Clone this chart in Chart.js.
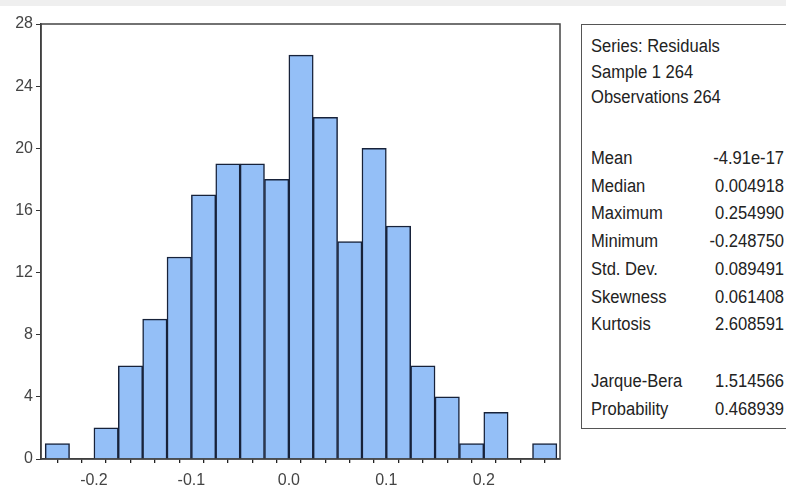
<!DOCTYPE html>
<html>
<head>
<meta charset="utf-8">
<script src="https://cdn.jsdelivr.net/npm/chart.js@4"></script>
<style>
  html,body{margin:0;padding:0;background:#fff;}
  body{width:786px;height:491px;position:relative;overflow:hidden;font-family:'Liberation Sans Narrow','Liberation Sans',Arial,sans-serif;}
  #band{position:absolute;left:0;top:0;width:786px;height:6px;background:#efefef;}
  #wrap{position:absolute;left:0;top:0;width:570px;height:491px;}
  #stats{position:absolute;left:581px;top:24px;width:220px;height:405px;border:1px solid #555;box-sizing:border-box;color:#222;font-size:18px;}
  #stats .row{position:absolute;left:9px;width:193px;height:22px;line-height:22px;}
  #stats .row span{display:inline-block;transform:scaleX(0.92);transform-origin:left center;}
  #stats .row .v{position:absolute;right:0;top:0;transform-origin:right center;}
</style>
</head>
<body>
<div id="band"></div>
<div id="wrap"><canvas id="hist"></canvas></div>
<div id="stats"></div>
<script>
// bin centers (width 0.025) and counts
const binCenters = [-0.2375,-0.2125,-0.1875,-0.1625,-0.1375,-0.1125,-0.0875,-0.0625,-0.0375,-0.0125,
                    0.0125,0.0375,0.0625,0.0875,0.1125,0.1375,0.1625,0.1875,0.2125,0.2375,0.2625];
const counts = [1,0,2,6,9,13,17,19,19,18,26,22,14,20,15,6,4,1,3,0,1];
const yTicks = [0,4,8,12,16,20,24,28];

const headLines = [['Series: Residuals',''],['Sample 1 264',''],['Observations 264','']];
const statNames = ['Mean','Median','Maximum','Minimum','Std. Dev.','Skewness','Kurtosis'];
const statValues = ['-4.91e-17','0.004918','0.254990','-0.248750','0.089491','0.061408','2.608591'];
const testNames = ['Jarque-Bera','Probability'];
const testValues = ['1.514566','0.468939'];

// stats box
const box = document.getElementById('stats');
function addRow(top, name, val){
  const r = document.createElement('div');
  r.className='row'; r.style.top = top+'px';
  r.innerHTML = '<span>'+name+'</span><span class="v">'+val+'</span>';
  box.appendChild(r);
}
headLines.forEach((h,i)=>addRow(10+i*25.5, h[0], h[1]));
statNames.forEach((n,i)=>addRow(122+i*27.7, n, statValues[i]));
testNames.forEach((n,i)=>addRow(345+i*27.5, n, testValues[i]));

// frame round the plot area
const frame = {
  id:'frame',
  afterDraw(c){
    const a=c.chartArea, g=c.ctx;
    g.save(); g.strokeStyle='#444'; g.lineWidth=1.5;
    g.strokeRect(a.left, a.top, a.right-a.left, a.bottom-a.top);
    g.restore();
  }
};

Chart.defaults.font.family = "'Liberation Sans', Arial, sans-serif";
Chart.defaults.font.size = 16;

new Chart(document.getElementById('hist'),{
  type:'bar',
  data:{datasets:[{
    data: binCenters.map((x,i)=>({x, y:counts[i]})),
    backgroundColor:'#94bff7',
    borderColor:'#17223a',
    borderWidth:1.5,
    borderSkipped:'bottom',
    barPercentage:1, categoryPercentage:1
  }]},
  options:{
    responsive:true, maintainAspectRatio:false, animation:false,
    layout:{padding:{top:24,right:10,left:0,bottom:0}},
    plugins:{legend:{display:false},tooltip:{enabled:false}},
    scales:{
      x:{type:'linear', min:-0.2543, max:0.2782, offset:false,
         afterFit(s){ s.height = 32; },
         grid:{drawOnChartArea:false, tickLength:4, color:'#222', lineWidth:1.3},
         border:{color:'#333', width:1.5},
         ticks:{stepSize:0.025, includeBounds:false, autoSkip:false, maxRotation:0, padding:8,
                color:'#444',
                callback:v=>Math.abs(v*10-Math.round(v*10))<1e-6 ? (Math.round(v*10)/10).toFixed(1) : ''}},
      y:{min:0, max:28,
         afterFit(s){ s.width = 41; },
         afterBuildTicks(s){ s.ticks = yTicks.map(v=>({value:v})); },
         grid:{drawOnChartArea:false, tickLength:5, color:'#333'},
         border:{color:'#333', width:1.5},
         ticks:{padding:3, color:'#444'}}
    }
  },
  plugins:[frame]
});
</script>
</body>
</html>
